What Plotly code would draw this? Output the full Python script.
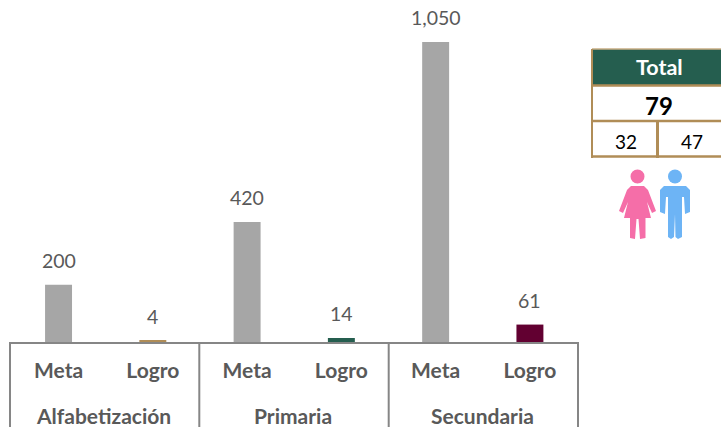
import plotly.graph_objects as go

W, H = 721, 427
categories = ["Meta", "Logro", "Meta", "Logro", "Meta", "Logro"]
groups = ["Alfabetización", "Primaria", "Secundaria"]
values = [200, 4, 420, 14, 1050, 61]
bar_colors = ["#A6A6A6", "#B08D57", "#A6A6A6", "#255E4F", "#A6A6A6", "#620031"]
total_title = "Total"
total_value = "79"
women_value = "32"
men_value = "47"

GRAY = "#595959"
AXIS = "#868686"
TAN = "#B08D57"
GREEN = "#255E4F"
PINK = "#F56EA8"
BLUE = "#6DB4F5"
FONT = "Lato"

px = lambda x: x / W
py = lambda y: 1 - y / H
positions = list(range(len(values)))

fig = go.Figure(go.Bar(
    x=positions, y=values, marker=dict(color=bar_colors, line_width=0),
    width=0.286, hoverinfo="skip", cliponaxis=False,
))

shapes, annotations = [], []

def rect(x0, y0, x1, y1, fill):
    shapes.append(dict(type="rect", xref="paper", yref="paper", x0=px(x0), x1=px(x1),
                       y0=py(y0), y1=py(y1), fillcolor=fill, line_width=0, layer="above"))

def line(x0, y0, x1, y1, color, width):
    shapes.append(dict(type="line", xref="paper", yref="paper", x0=px(x0), x1=px(x1),
                       y0=py(y0), y1=py(y1), line=dict(color=color, width=width), layer="above"))

def poly(points, fill):
    d = "M " + " L ".join(f"{px(a):.5f},{py(b):.5f}" for a, b in points) + " Z"
    shapes.append(dict(type="path", xref="paper", yref="paper", path=d,
                       fillcolor=fill, line_width=0, layer="above"))

def circle(cx, cy, r, fill):
    shapes.append(dict(type="circle", xref="paper", yref="paper", x0=px(cx - r), x1=px(cx + r),
                       y0=py(cy - r), y1=py(cy + r), fillcolor=fill, line_width=0, layer="above"))

def label(x, y, text, size, color, bold=False):
    annotations.append(dict(xref="paper", yref="paper", x=px(x), y=py(y), text=f"<b>{text}</b>" if bold else text,
                            showarrow=False, xanchor="center", yanchor="middle",
                            font=dict(family=FONT, size=size, color=color)))

# value labels, placed from the data
for p, v in zip(positions, values):
    annotations.append(dict(xref="x", yref="y", x=p, y=v, text=f"{v:,}", showarrow=False,
                            xanchor="center", yanchor="bottom", yshift=11,
                            font=dict(family=FONT, size=19.5, color=GRAY)))

# multi-level axis frame
for xd in (10, 199.3, 388.7, 578):
    line(xd, 342, xd, 427, AXIS, 2)
for i, g in enumerate(groups):
    label(10 + 189.33 * (i + 0.5) - 1, 415, g, 21, GRAY, True)

# summary table
rect(592, 49, 721, 85, GREEN)
line(592, 49, 721, 49, "#C9AE84", 1.5)
line(592, 85.5, 721, 85.5, TAN, 2.5)
line(592, 121, 721, 121, TAN, 2.5)
line(592, 156.5, 721, 156.5, TAN, 2.5)
line(592, 49, 592, 158, TAN, 2)
line(657.5, 121, 657.5, 158, TAN, 3)
label(659.5, 66.5, total_title, 21.5, "#FFFFFF", True)
label(659, 105, total_value, 24, "#000000", True)
label(625.5, 142, women_value, 19, "#000000")
label(692, 142, men_value, 19, "#000000")

# woman icon
circle(637.5, 176.5, 7, PINK)
poly([(631, 186), (644, 186), (648, 190), (656, 211), (652, 213), (647, 202), (651, 218),
      (645.5, 218), (645.5, 238), (640, 239), (638.5, 219), (636.5, 219), (635, 239), (630, 238),
      (630, 218), (624, 218), (628, 202), (623, 213), (619, 211), (627, 190)], PINK)
# man icon
circle(675, 176.5, 7, BLUE)
poly([(664, 186), (686, 186), (690, 190), (690, 212), (685, 214), (684, 197), (682, 197),
      (682, 237), (678, 239), (675.5, 237), (675, 214), (674, 237), (671, 239), (668, 237),
      (668, 197), (666, 197), (665, 214), (660, 212), (660, 190)], BLUE)

fig.update_layout(
    width=W, height=H, autosize=False, margin=dict(l=0, r=0, t=0, b=0),
    paper_bgcolor="#FFFFFF", plot_bgcolor="#FFFFFF", showlegend=False,
    shapes=shapes, annotations=annotations,
    xaxis=dict(domain=[px(10), px(578)], range=[-0.515, 5.51], tickmode="array",
               tickvals=positions, ticktext=[f"<b>{c}</b>" for c in categories],
               ticks="", showgrid=False, zeroline=False, showline=True,
               linecolor=AXIS, linewidth=2, ticklabelstandoff=9,
               tickfont=dict(family=FONT, size=21, color=GRAY)),
    yaxis=dict(domain=[py(342), 1], range=[0, 1197], visible=False, showgrid=False, zeroline=False),
)
fig.write_html("out.html", config=dict(displayModeBar=False),
               post_script="document.body.style.margin='0';document.documentElement.style.overflow='hidden';")
